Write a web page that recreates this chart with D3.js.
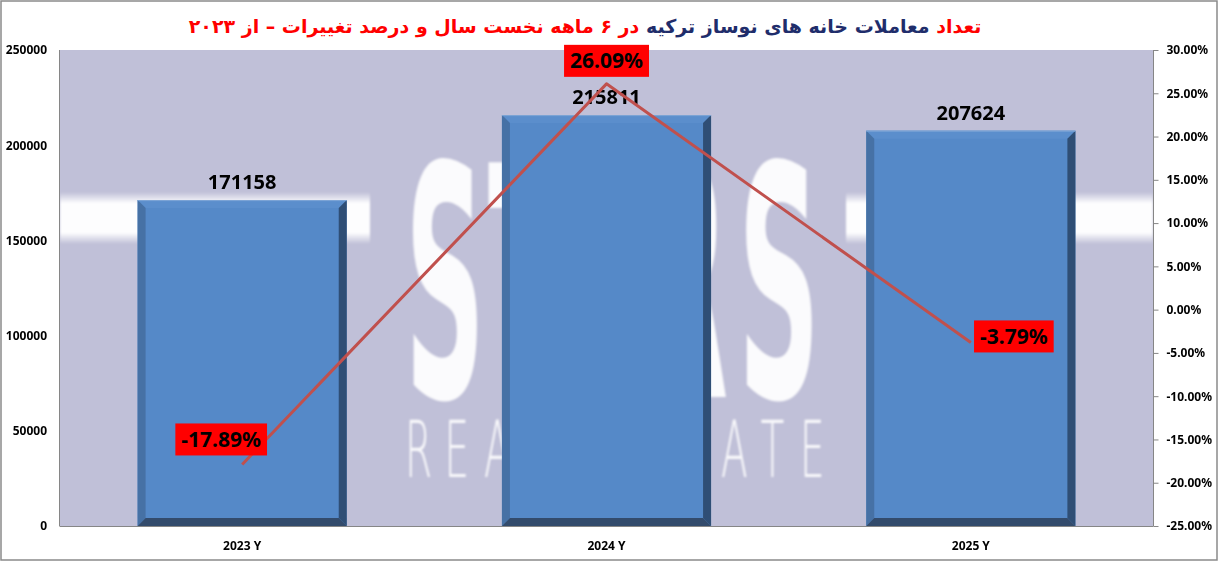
<!DOCTYPE html>
<html>
<head>
<meta charset="utf-8">
<script src="https://cdn.jsdelivr.net/npm/d3@7"></script>
<style>
  html, body { margin: 0; padding: 0; background: #ffffff; }
  svg { display: block; }
</style>
</head>
<body>
<svg id="chart" width="1219" height="562"></svg>
<script>
// ---- data ----
const categories = ["2023 Y", "2024 Y", "2025 Y"];
const transactions = [171158, 215811, 207624];
const changePct = [-17.89, 26.09, -3.79];
const leftTicks = [0, 50000, 100000, 150000, 200000, 250000];
const rightTicks = [-25, -20, -15, -10, -5, 0, 5, 10, 15, 20, 25, 30];
const titleParts = [
  { text: "تعداد ", color: "#ff0000" },
  { text: "معاملات  خانه های نوساز ترکیه ", color: "#1f2d6b" },
  { text: "در ۶ ماهه نخست سال و درصد تغییرات  –  از ۲۰۲۳", color: "#ff0000" }
];

// ---- layout / style ----
const W = 1219, H = 562;
const plot = { left: 60, right: 1153, top: 50, bottom: 526 };
const pctLabelOffsets = [[-21, -25], [0, -23], [43, -6]];
const font = "'Noto Sans', 'DejaVu Sans', sans-serif";
// watermark (background logo) placement
const wmLetters = [
  { t: "S", x0: 405, x1: 485 },
  { t: "T", x0: 488, x1: 570 },
  { t: "R", x0: 648, x1: 728 },
  { t: "S", x0: 738, x1: 820 }
];
const wmSub = "REAL ESTATE";

const svg = d3.select("#chart");

// outer border
svg.append("rect").attr("x", 1).attr("y", 1).attr("width", W - 3).attr("height", H - 3)
  .attr("fill", "#ffffff").attr("stroke", "#8a8a8a").attr("stroke-width", 1.5);

// scales
const x = d3.scaleBand().domain(categories).range([plot.left, plot.right])
  .paddingInner(0.426).paddingOuter(0.213);
const yL = d3.scaleLinear().domain([0, 250000]).range([plot.bottom, plot.top]);
const yR = d3.scaleLinear().domain([-25, 30]).range([plot.bottom, plot.top]);

// defs
const defs = svg.append("defs");
const bandGrad = defs.append("linearGradient").attr("id", "band").attr("x1", 0).attr("y1", 0).attr("x2", 0).attr("y2", 1);
bandGrad.append("stop").attr("offset", "0%").attr("stop-color", "#ffffff").attr("stop-opacity", 0);
bandGrad.append("stop").attr("offset", "22%").attr("stop-color", "#ffffff").attr("stop-opacity", 0.97);
bandGrad.append("stop").attr("offset", "78%").attr("stop-color", "#ffffff").attr("stop-opacity", 0.97);
bandGrad.append("stop").attr("offset", "100%").attr("stop-color", "#ffffff").attr("stop-opacity", 0);
defs.append("filter").attr("id", "soft").append("feGaussianBlur").attr("stdDeviation", 1.3);

// plot background
svg.append("rect").attr("x", plot.left).attr("y", plot.top)
  .attr("width", plot.right - plot.left).attr("height", plot.bottom - plot.top)
  .attr("fill", "#c0c0d8");

// watermark
const wm = svg.append("g").attr("filter", "url(#soft)");
wm.append("rect").attr("x", plot.left).attr("y", 192).attr("width", 310).attr("height", 52).attr("fill", "url(#band)");
wm.append("rect").attr("x", 846).attr("y", 192).attr("width", plot.right - 846).attr("height", 52).attr("fill", "url(#band)");
wmLetters.forEach(L => {
  const t = wm.append("text").attr("x", 0).attr("y", 0)
    .style("font-family", "'DejaVu Sans Condensed', 'DejaVu Sans', sans-serif")
    .style("font-size", "322px").style("font-weight", "bold")
    .attr("fill", "#ffffff").attr("fill-opacity", 0.93).text(L.t);
  const bb = t.node().getBBox();
  const sx = (L.x1 - L.x0) / bb.width;
  t.attr("transform", `translate(${L.x0 - bb.x * sx},397) scale(${sx},1)`);
});
const subPitch = 39.5, subScale = 0.5;
wm.append("text")
  .attr("transform", `translate(405,477) scale(${subScale},1)`)
  .attr("x", wmSub.split("").map((c, i) => i * subPitch / subScale).join(" "))
  .attr("y", 0)
  .style("font-family", "'DejaVu Sans', sans-serif").style("font-size", "78px").style("font-weight", 200)
  .attr("fill", "#ffffff").attr("fill-opacity", 0.9).text(wmSub);

// 3D-ish bars
const b = 8;
const barData = categories.map((c, i) => ({ c, v: transactions[i] }));
const bars = svg.append("g").selectAll("g").data(barData).join("g");
bars.each(function (d) {
  const g = d3.select(this);
  const x0 = x(d.c), x1 = x(d.c) + x.bandwidth();
  const t = yL(d.v), base = yL(0);
  g.append("rect").attr("x", x0).attr("y", t).attr("width", x1 - x0).attr("height", base - t).attr("fill", "#5589c8");
  g.append("polygon").attr("points", [[x0, t], [x1, t], [x1 - b, t + b], [x0 + b, t + b]].join(" ")).attr("fill", "#5b8ecc");
  g.append("polygon").attr("points", [[x0, t], [x0 + b, t + b], [x0 + b, base - b], [x0, base]].join(" ")).attr("fill", "#4671a5");
  g.append("polygon").attr("points", [[x1, t], [x1 - b, t + b], [x1 - b, base - b], [x1, base]].join(" ")).attr("fill", "#2f4e75");
  g.append("polygon").attr("points", [[x0, base], [x0 + b, base - b], [x1 - b, base - b], [x1, base]].join(" ")).attr("fill", "#334b6c");
  g.append("rect").attr("x", x0).attr("y", t).attr("width", x1 - x0).attr("height", 1).attr("fill", "#7fa6d6");
});

// axes lines
svg.append("line").attr("x1", plot.left - 0.5).attr("x2", plot.left - 0.5).attr("y1", plot.top).attr("y2", plot.bottom)
  .attr("stroke", "#868686").attr("stroke-width", 1);
svg.append("line").attr("x1", plot.left - 0.5).attr("x2", plot.right).attr("y1", plot.bottom + 0.5).attr("y2", plot.bottom + 0.5)
  .attr("stroke", "#868686").attr("stroke-width", 1);

// left axis
const leftAxis = svg.append("g").attr("transform", `translate(${plot.left},0)`)
  .call(d3.axisLeft(yL).tickValues(leftTicks).tickSize(0).tickPadding(13).tickFormat(d3.format("d")));
leftAxis.select(".domain").remove();
leftAxis.selectAll("text").style("font-family", font).style("font-size", "12px").style("font-weight", "bold").attr("fill", "#000");

// right axis
const rightAxis = svg.append("g").attr("transform", `translate(${plot.right + 0.5},0)`)
  .call(d3.axisRight(yR).tickValues(rightTicks).tickSize(5).tickPadding(8).tickFormat(d => d.toFixed(2) + "%"));
rightAxis.select(".domain").attr("stroke", "#868686").attr("d", `M0,${plot.top}V${plot.bottom + 0.5}`);
rightAxis.selectAll(".tick line").attr("stroke", "#868686");
rightAxis.selectAll("text").style("font-family", font).style("font-size", "12px").style("font-weight", "bold").attr("fill", "#000");

// bottom axis labels
const bottomAxis = svg.append("g").attr("transform", `translate(0,${plot.bottom})`)
  .call(d3.axisBottom(x).tickSize(0).tickPadding(15));
bottomAxis.select(".domain").remove();
bottomAxis.selectAll("text").style("font-family", font).style("font-size", "12px").style("font-weight", "bold").attr("fill", "#000");

// bar value labels
svg.append("g").selectAll("text").data(barData).join("text")
  .attr("x", d => x(d.c) + x.bandwidth() / 2)
  .attr("y", d => yL(d.v) - 11)
  .attr("text-anchor", "middle")
  .style("font-family", font).style("font-size", "20px").style("font-weight", "bold")
  .attr("fill", "#000").text(d => d.v);

// line
const lineData = categories.map((c, i) => ({ c, v: changePct[i] }));
const line = d3.line().x(d => x(d.c) + x.bandwidth() / 2).y(d => yR(d.v));
svg.append("path").datum(lineData).attr("d", line)
  .attr("fill", "none").attr("stroke", "#c0504d").attr("stroke-width", 3).attr("stroke-linejoin", "round");

// percentage labels
const pl = svg.append("g").selectAll("g").data(lineData).join("g")
  .attr("transform", (d, i) => `translate(${x(d.c) + x.bandwidth() / 2 + pctLabelOffsets[i][0]},${yR(d.v) + pctLabelOffsets[i][1]})`);
pl.append("rect").attr("fill", "#ff0000");
pl.append("text").attr("text-anchor", "middle").attr("dy", "0.36em")
  .style("font-family", font).style("font-size", "21px").style("font-weight", "bold")
  .attr("fill", "#000").text(d => d.v.toFixed(2) + "%");
pl.each(function () {
  const g = d3.select(this);
  const bb = g.select("text").node().getBBox();
  g.select("rect").attr("x", bb.x - 6).attr("y", -16).attr("width", bb.width + 12).attr("height", 32);
});

// title
const title = svg.append("text").attr("x", 585).attr("y", 33)
  .attr("text-anchor", "middle").attr("direction", "rtl")
  .style("font-family", "'DejaVu Sans', sans-serif").style("font-size", "19px").style("font-weight", "bold");
titleParts.forEach(p => title.append("tspan").attr("fill", p.color).text(p.text));
</script>
</body>
</html>
